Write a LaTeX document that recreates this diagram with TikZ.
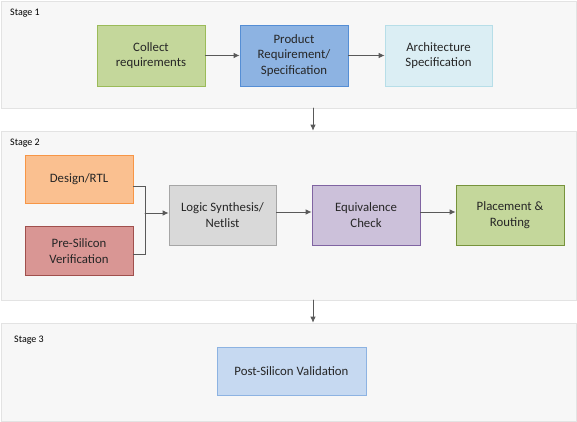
\documentclass[tikz,border=0pt]{standalone}
\usepackage{fontspec}
\setmainfont{Carlito}
\usetikzlibrary{arrows.meta}
\definecolor{panelfill}{HTML}{F7F7F7}
\definecolor{panelline}{HTML}{E3E3E3}
\definecolor{linkgray}{HTML}{595959}
\definecolor{txt}{HTML}{262626}
\begin{document}
\begin{tikzpicture}[x=1pt,y=-1pt,cap=round,>={Latex[length=6pt,width=5.5pt]},
	panel/.style={draw=panelline,fill=panelfill,line width=0.6pt,minimum width=575pt,inner sep=0pt},
	box/.style={draw,line width=0.8pt,align=center,inner sep=0pt,minimum width=108pt,minimum height=61pt,
		text=txt,font=\fontsize{12.8}{15.5}\selectfont},
	stagelabel/.style={anchor=west,inner sep=0pt,text=black,font=\fontsize{10}{11}\selectfont},
	link/.style={draw=linkgray,line width=0.8pt}]
	\useasboundingbox (0,0) rectangle (577,422);

	% stage panels
	\node [panel, minimum height=107pt] (stage1) at (288.5, 54.5) {};
	\node [panel, minimum height=169pt] (stage2) at (288.5, 215.5) {};
	\node [panel, minimum height=98pt] (stage3) at (288.5, 372) {};
	\node [stagelabel] (lab1) at (10, 13) {Stage 1};
	\node [stagelabel] (lab2) at (10, 143) {Stage 2};
	\node [stagelabel] (lab3) at (14, 340) {Stage 3};

	% stage 1
	\node [box, fill={rgb,255:red,196;green,215;blue,155}, draw={rgb,255:red,155;green,187;blue,89}] (collect) at (151, 55.5) {Collect\\requirements};
	\node [box, fill={rgb,255:red,141;green,179;blue,226}, draw={rgb,255:red,85;green,142;blue,213}] (product) at (294, 55.5) {Product\\Requirement/\\Specification};
	\node [box, minimum width=107pt, fill={rgb,255:red,219;green,238;blue,244}, draw={rgb,255:red,183;green,222;blue,232}] (arch) at (438.5, 55.5) {Architecture\\Specification};

	% stage 2
	\node [box, minimum height=48pt, fill={rgb,255:red,250;green,192;blue,144}, draw={rgb,255:red,247;green,150;blue,70}] (design) at (79, 179) {Design/RTL};
	\node [box, minimum height=49pt, fill={rgb,255:red,217;green,150;blue,148}, draw={rgb,255:red,160;green,80;blue,77}] (presi) at (79, 251) {Pre-Silicon\\Verification};
	\node [box, minimum width=107pt, minimum height=60pt, fill={rgb,255:red,217;green,217;blue,217}, draw={rgb,255:red,166;green,166;blue,166}] (logic) at (222.5, 215) {Logic Synthesis/\\Netlist};
	\node [box, minimum height=60pt, fill={rgb,255:red,204;green,193;blue,218}, draw={rgb,255:red,128;green,100;blue,162}] (equiv) at (366, 215) {Equivalence\\Check};
	\node [box, minimum height=60pt, fill={rgb,255:red,196;green,215;blue,155}, draw={rgb,255:red,119;green,147;blue,60}] (place) at (510, 215) {Placement \&\\Routing};

	% stage 3
	\node [box, minimum width=149pt, minimum height=48pt, fill={rgb,255:red,198;green,217;blue,241}, draw={rgb,255:red,141;green,179;blue,226}] (post) at (291.5, 371) {Post-Silicon Validation};

	% links
	\draw [link, ->] (collect) -- (product);
	\draw [link, ->] (product) -- (arch);
	\coordinate (merge) at (145, 213);
	\draw [link] ([yshift=-7pt]design.east) -| (merge);
	\draw [link] ([yshift=-3pt]presi.east) -| (merge);
	\draw [link, ->] (merge) -- (logic.west |- merge);
	\draw [link, ->] ([yshift=3pt]logic.east) -- ([yshift=3pt]equiv.west);
	\draw [link, ->] ([yshift=3pt]equiv.east) -- ([yshift=3pt]place.west);

	\coordinate (down1) at (313, 108);
	\coordinate (down2) at (313, 300);
	\draw [link, ->] (down1) -- (stage2.north -| down1);
	\draw [link, ->] (down2) -- (stage3.north -| down2);

\end{tikzpicture}
\end{document}
